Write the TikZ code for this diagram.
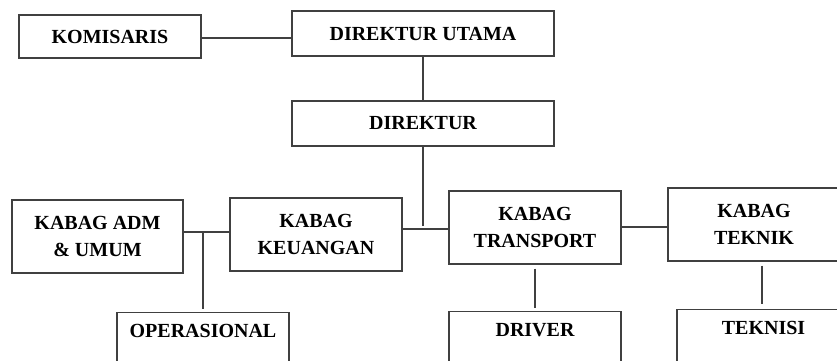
\documentclass[tikz,border=0pt]{standalone}
\usepackage{fontspec}
\setmainfont{Liberation Serif}
\usetikzlibrary{positioning}

\begin{document}
\begin{tikzpicture}[x=1pt,y=-1pt]
  \tikzset{unit/.style = {shape=rectangle,draw=black!75,line width=1.3pt,
      align=center,font=\bfseries\fontsize{20}{27}\selectfont}}
  \tikzset{headbox/.style = {unit,minimum height=45pt}}
  \tikzset{kabag/.style = {unit,minimum width=172pt,minimum height=73pt}}
  \tikzset{staff/.style = {unit,anchor=north,minimum width=172pt,
      inner ysep=4pt,text height=21pt,text depth=60pt}}
  \tikzset{edge/.style = {draw=black!75,line width=1.3pt}}

  \path[use as bounding box,clip] (0,0) rectangle (837,360);

  \node[headbox, minimum width=182pt, minimum height=43pt] (kom) at (110,36.5) {KOMISARIS};
  \node[headbox, minimum width=262pt] (dirut) at (423,33.5) {DIREKTUR UTAMA};
  \node[headbox, minimum width=262pt] (dir) at (423,123.5) {DIREKTUR};

  \node[kabag, minimum width=171pt] (adm) at (97.5,236.5) {KABAG ADM\\\& UMUM};
  \node[kabag] (keu)   at (316,234.5) {KABAG\\KEUANGAN};
  \node[kabag] (trans) at (535,227.5) {KABAG\\TRANSPORT};
  \node[kabag] (tek)   at (754,224.5) {KABAG\\TEKNIK};

  \node[staff] (ops)     at (203,312) {OPERASIONAL};
  \node[staff] (driver)  at (535,311) {DRIVER};
  \node[staff, minimum width=173pt] (teknisi) at (763.5,309) {TEKNISI};

  \coordinate (j0) at (246,38);
  \coordinate (j1) at (203,232);
  \coordinate (j2) at (423,229);
  \coordinate (j3) at (644,227);
  \coordinate (j4) at (762,285);

  \draw[edge] (kom.east |- j0) to (dirut.west |- j0);
  \draw[edge] (dirut) to (dir);
  \draw[edge, shorten >=3pt] (dir.south) to (j2);

  \draw[edge] (adm.east |- j1) to (keu.west |- j1);
  \draw[edge, shorten >=3pt] (j1) to (ops.north -| j1);
  \draw[edge] (keu.east |- j2) to (trans.west |- j2);
  \draw[edge] (trans.east |- j3) to (tek.west |- j3);

  \draw[edge, shorten <=4pt, shorten >=3pt] (trans.south) to (driver.north);
  \draw[edge, shorten <=4pt, shorten >=5pt] (tek.south -| j4) to (teknisi.north -| j4);
\end{tikzpicture}
\end{document}
